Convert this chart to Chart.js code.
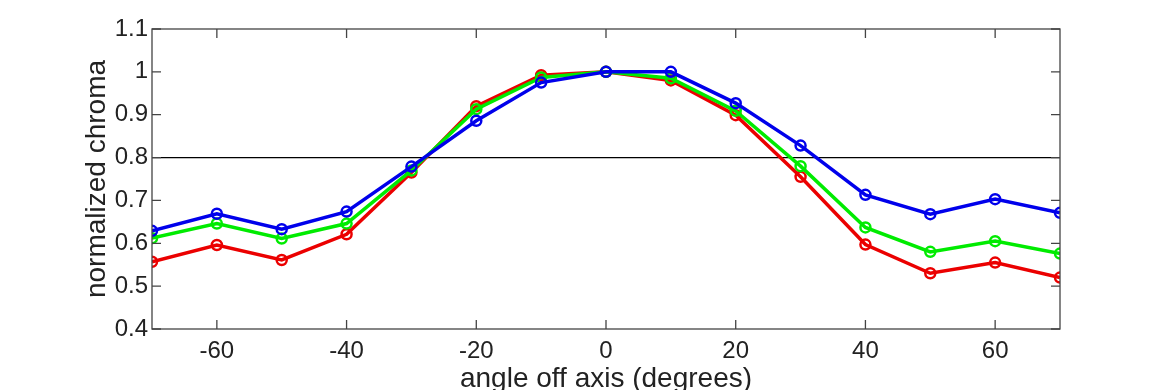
<!DOCTYPE html>
<html>
<head>
<meta charset="utf-8">
<script src="https://cdn.jsdelivr.net/npm/chart.js@4/dist/chart.umd.min.js"></script>
<style>
  html, body { margin: 0; padding: 0; background: #fff; }
  #wrap { width: 1170px; height: 390px; }
</style>
</head>
<body>
<div id="wrap"><canvas id="myChart"></canvas></div>
<script>
const angles = [-70, -60, -50, -40, -30, -20, -10, 0, 10, 20, 30, 40, 50, 60, 70];
const redValues = [0.557, 0.596, 0.561, 0.621, 0.765, 0.920, 0.992, 1.0, 0.980, 0.899, 0.755, 0.597, 0.530, 0.555, 0.520];
const greenValues = [0.612, 0.646, 0.611, 0.646, 0.770, 0.913, 0.987, 1.0, 0.985, 0.909, 0.780, 0.637, 0.580, 0.605, 0.576];
const blueValues = [0.629, 0.669, 0.633, 0.674, 0.779, 0.886, 0.975, 1.0, 1.0, 0.927, 0.828, 0.713, 0.668, 0.703, 0.671];
const xTicks = [-60, -40, -20, 0, 20, 40, 60];
const yTicks = [0.4, 0.5, 0.6, 0.7, 0.8, 0.9, 1.0, 1.1];
const threshold = 0.8;

const ctx = document.getElementById('myChart');
const font = "'Liberation Sans', Arial, sans-serif";

function series(values) {
  return values.map((v, i) => ({ x: angles[i], y: v }));
}

// lower order is drawn on top, so blue ends up above green and red
function lineSet(label, color, values, order) {
  return {
    label: label,
    data: series(values),
    borderColor: color,
    backgroundColor: 'transparent',
    borderWidth: 3.5,
    pointRadius: 5,
    pointBorderWidth: 2.5,
    pointBorderColor: color,
    pointBackgroundColor: 'transparent',
    tension: 0,
    order: order
  };
}

// box round the plot with ticks pointing inward, like the original
const boxPlugin = {
  id: 'box',
  afterDraw(chart) {
    const a = chart.chartArea;
    const c = chart.ctx;
    const xs = chart.scales.x, ys = chart.scales.y;
    c.save();
    c.strokeStyle = '#444';
    c.lineWidth = 1.3;
    c.strokeRect(a.left, a.top, a.right - a.left, a.bottom - a.top);
    c.beginPath();
    xTicks.forEach(t => {
      const px = xs.getPixelForValue(t);
      c.moveTo(px, a.bottom); c.lineTo(px, a.bottom - 9);
      c.moveTo(px, a.top); c.lineTo(px, a.top + 9);
    });
    yTicks.forEach(t => {
      const py = ys.getPixelForValue(t);
      c.moveTo(a.left, py); c.lineTo(a.left + 9, py);
      c.moveTo(a.right, py); c.lineTo(a.right - 9, py);
    });
    c.stroke();
    c.restore();
  }
};

new Chart(ctx, {
  type: 'line',
  data: {
    datasets: [
      {
        label: 'threshold',
        data: [{ x: -70, y: threshold }, { x: 70, y: threshold }],
        borderColor: '#000',
        borderWidth: 1.3,
        pointRadius: 0,
        order: 5
      },
      lineSet('red', 'rgb(235,0,0)', redValues, 3),
      lineSet('green', 'rgb(0,235,0)', greenValues, 2),
      lineSet('blue', 'rgb(0,0,235)', blueValues, 1)
    ]
  },
  options: {
    responsive: true,
    maintainAspectRatio: false,
    animation: false,
    layout: { padding: { left: 80, right: 110, top: 29, bottom: -6 } },
    plugins: {
      legend: { display: false },
      tooltip: { enabled: false }
    },
    scales: {
      x: {
        type: 'linear',
        min: -70,
        max: 70,
        grid: { display: false, drawTicks: false },
        border: { display: false },
        afterBuildTicks: s => { s.ticks = xTicks.map(v => ({ value: v })); },
        afterFit: s => { s.height = 67; },
        ticks: {
          color: '#222',
          font: { family: font, size: 24 },
          padding: 8,
          maxRotation: 0,
          callback: v => String(v)
        },
        title: {
          display: true,
          text: 'angle off axis (degrees)',
          color: '#222',
          font: { family: font, size: 28 },
          padding: { top: 0, bottom: 0 }
        }
      },
      y: {
        min: 0.4,
        max: 1.1,
        grid: { display: false, drawTicks: false },
        border: { display: false },
        afterBuildTicks: s => { s.ticks = yTicks.map(v => ({ value: v })); },
        afterFit: s => { s.width = 72; },
        ticks: {
          color: '#222',
          font: { family: font, size: 24 },
          padding: 4,
          callback: v => String(+v.toFixed(1))
        },
        title: {
          display: true,
          text: 'normalized chroma',
          color: '#222',
          font: { family: font, size: 28 },
          padding: { top: 0, bottom: 0 }
        }
      }
    }
  },
  plugins: [boxPlugin]
});
</script>
</body>
</html>
